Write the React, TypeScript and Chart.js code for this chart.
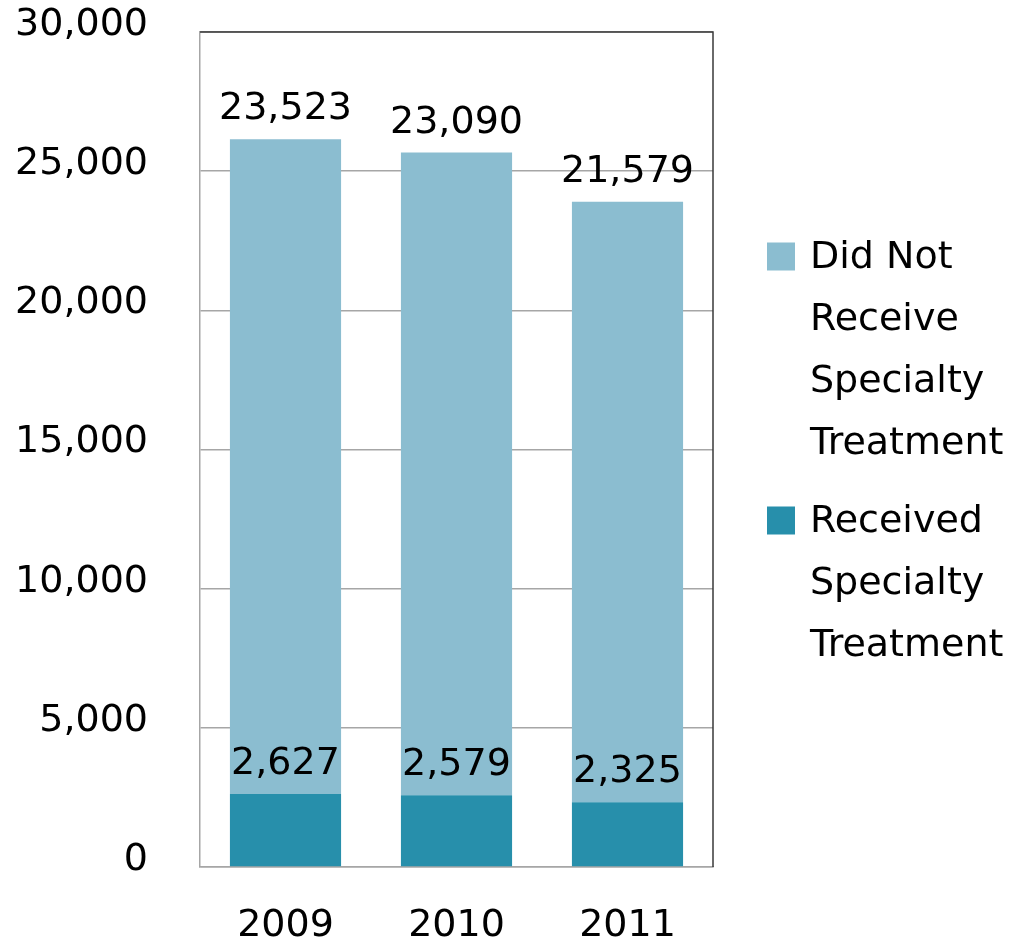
import React, { useEffect, useRef } from "react";
import { Chart, registerables } from "chart.js";

Chart.register(...registerables);

const years = ["2009", "2010", "2011"];
const receivedTreatment = [2627, 2579, 2325];
const didNotReceiveTreatment = [23523, 23090, 21579];
const seriesNames = ["Received Specialty Treatment", "Did Not Receive Specialty Treatment"];
const seriesColors = ["#278fab", "#8bbdd0"];
const yTicks = [0, 5000, 10000, 15000, 20000, 25000, 30000];

const FONT = "'DejaVu Sans', Verdana, sans-serif";
const FONT_SIZE = 38;

const fmt = (v: number) => v.toLocaleString("en-US");

// Writes each segment's value just above the segment's top edge.
const valueLabels = {
  id: "valueLabels",
  afterDatasetsDraw(chart: any) {
    const ctx = chart.ctx;
    ctx.save();
    ctx.font = `${FONT_SIZE}px ${FONT}`;
    ctx.fillStyle = "#000";
    ctx.textAlign = "center";
    ctx.textBaseline = "alphabetic";
    chart.data.datasets.forEach((ds: any, i: number) => {
      const meta = chart.getDatasetMeta(i);
      meta.data.forEach((bar: any, j: number) => {
        ctx.fillText(fmt(ds.data[j]), bar.x, bar.y - 20);
      });
    });
    ctx.restore();
  },
};

// Dark frame on the top and right sides of the plot area.
const plotFrame = {
  id: "plotFrame",
  afterDraw(chart: any) {
    const { ctx, chartArea } = chart;
    ctx.save();
    ctx.strokeStyle = "#3a3a3a";
    ctx.lineWidth = 1.5;
    ctx.beginPath();
    ctx.moveTo(chartArea.left, chartArea.top);
    ctx.lineTo(chartArea.right, chartArea.top);
    ctx.lineTo(chartArea.right, chartArea.bottom);
    ctx.stroke();
    ctx.restore();
  },
};

// Legend on the right with word-wrapped entries, top series first.
const sideLegend = {
  id: "sideLegend",
  afterDraw(chart: any) {
    const { ctx, chartArea } = chart;
    const boxX = chartArea.right + 54;
    const textX = boxX + 43;
    const maxWidth = chart.width - textX - 2;
    const lineHeight = 62;
    const itemGap = 16;
    const box = 28;
    ctx.save();
    ctx.font = `${FONT_SIZE}px ${FONT}`;
    ctx.textAlign = "left";
    ctx.textBaseline = "alphabetic";
    let baseline = (chartArea.top + chartArea.bottom) / 2 - 182;
    const order = chart.data.datasets.map((_: any, i: number) => i).reverse();
    order.forEach((i: number) => {
      const ds = chart.data.datasets[i];
      const words = String(ds.label).split(" ");
      const lines: string[] = [];
      let cur = "";
      words.forEach((w) => {
        const test = cur ? cur + " " + w : w;
        if (cur && ctx.measureText(test).width > maxWidth) {
          lines.push(cur);
          cur = w;
        } else {
          cur = test;
        }
      });
      if (cur) lines.push(cur);
      ctx.fillStyle = ds.backgroundColor;
      ctx.fillRect(boxX, baseline - 25, box, box);
      ctx.fillStyle = "#000";
      lines.forEach((line, k) => {
        ctx.fillText(line, textX, baseline + k * lineHeight);
      });
      baseline += lines.length * lineHeight + itemGap;
    });
    ctx.restore();
  },
};

export default function App() {
  const canvasRef = useRef<HTMLCanvasElement | null>(null);

  useEffect(() => {
    if (!canvasRef.current) return;
    const chart = new Chart(canvasRef.current, {
      type: "bar",
      data: {
        labels: years,
        datasets: [
          {
            label: seriesNames[0],
            data: receivedTreatment,
            backgroundColor: seriesColors[0],
            borderWidth: 0,
            barPercentage: 0.65,
            categoryPercentage: 1,
          },
          {
            label: seriesNames[1],
            data: didNotReceiveTreatment,
            backgroundColor: seriesColors[1],
            borderWidth: 0,
            barPercentage: 0.65,
            categoryPercentage: 1,
          },
        ],
      },
      options: {
        responsive: false,
        animation: false,
        layout: { padding: { top: 32, right: 303, left: 0, bottom: 0 } },
        plugins: {
          legend: { display: false },
          tooltip: { enabled: false },
          title: { display: false },
        },
        scales: {
          x: {
            stacked: true,
            grid: { display: false, drawTicks: false },
            border: { color: "#a6a6a6", width: 1.5 },
            ticks: {
              color: "#000",
              padding: 36,
              font: { family: FONT, size: FONT_SIZE },
            },
            afterFit(scale: any) {
              scale.height = 77;
              scale.paddingLeft = 0;
              scale.paddingRight = 0;
            },
          },
          y: {
            stacked: true,
            min: 0,
            max: 30000,
            afterBuildTicks(scale: any) {
              scale.ticks = yTicks.map((v) => ({ value: v }));
            },
            grid: { color: "#a6a6a6", lineWidth: 1.5, drawTicks: false },
            border: { color: "#a6a6a6", width: 1.5 },
            ticks: {
              color: "#000",
              padding: 52,
              labelOffset: -7,
              font: { family: FONT, size: FONT_SIZE },
              callback: (v: any) => fmt(Number(v)),
            },
            afterFit(scale: any) {
              scale.width = 200;
              scale.paddingTop = 0;
              scale.paddingBottom = 0;
            },
          },
        },
      },
      plugins: [valueLabels, plotFrame, sideLegend],
    });
    return () => chart.destroy();
  }, []);

  return (
    <div style={{ position: "fixed", left: 0, top: 0, width: 1016, height: 944, background: "#fff" }}>
      <canvas ref={canvasRef} width={1016} height={944} />
    </div>
  );
}
